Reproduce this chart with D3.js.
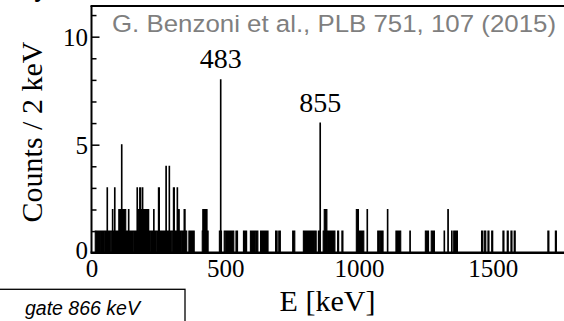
<!DOCTYPE html>
<html>
<head>
<meta charset="utf-8">
<script src="https://cdn.jsdelivr.net/npm/d3@7"></script>
<style>
  html, body { margin: 0; padding: 0; background: #fff; }
  svg { display: block; overflow: hidden; }
</style>
</head>
<body>
<svg id="chart" width="564" height="321"></svg>
<script>
// Gamma spectrum gated on 866 keV: counts per 2 keV bin (only non-empty bins listed)
const binWidth = 2; // keV
const countsPerBin = [
  [14,1],[16,1],[18,1],[20,1],[22,1],[24,1],[26,1],[28,1],[30,1],[32,1],
  [38,1],[40,1],[42,1],[44,1],[46,1],[48,1],
  [54,1],[56,1],[58,3],[60,1],[62,1],[64,1],[66,1],[68,1],[70,1],
  [74,1],[76,1],[78,2],[80,1],[82,1],[84,1],[86,3],[88,1],[90,1],[92,1],[94,1],[96,1],[98,1],[100,1],
  [102,2],[104,2],[106,2],[108,2],[110,2],[112,5],[114,2],[116,2],[118,2],[120,2],[122,2],[124,2],[126,2],
  [128,1],[130,1],[132,1],[134,1],[136,1],[138,2],[140,1],[142,1],[144,1],
  [150,1],[152,1],[154,1],[156,1],
  [162,1],[164,1],[166,1],[168,1],[170,3],[172,1],
  [174,2],[176,2],[178,2],[180,3],[182,3],[184,2],[186,2],[188,2],[190,3],[192,2],[194,2],[196,2],[198,2],
  [200,1],[202,2],[204,2],[206,2],[208,1],[210,2],[212,2],[214,1],[216,1],[218,1],[220,1],
  [226,1],[228,1],[230,1],[232,2],[234,1],[236,1],
  [242,1],[244,1],[246,1],[248,1],[250,3],[252,3],[254,1],[256,1],[258,1],
  [262,1],[264,1],[266,1],[268,1],[270,1],[272,1],[274,1],[276,1],[278,4],[280,1],[282,1],[284,1],[286,1],[288,1],[290,4],[292,1],[294,1],[296,1],[298,1],
  [302,1],[304,1],[306,3],[308,3],[310,1],[312,1],[314,1],[316,1],[318,1],[320,3],[322,1],[324,2],[326,2],[328,1],[330,1],[332,1],[334,1],[336,1],
  [342,1],[344,1],[346,2],[348,2],[350,1],[352,1],[354,1],
  [364,1],[366,1],[368,1],[370,1],[372,1],[374,1],[376,1],[378,1],[380,1],[382,1],
  [414,1],[416,2],[418,2],[420,2],[422,2],[424,2],[426,2],[428,2],[430,2],[432,1],[434,1],
  [478,1],[480,1],[482,8],[484,1],
  [496,1],[498,1],[500,1],
  [506,1],[508,1],[510,1],[512,1],[514,1],[516,1],[518,1],[520,1],[522,1],[524,1],[526,1],[528,1],[530,1],
  [540,1],[542,1],[544,1],
  [568,1],[570,1],[576,1],[578,1],
  [594,1],[596,1],[598,1],[600,1],[602,1],[606,1],
  [612,1],[614,1],[616,1],[618,1],[620,1],
  [632,1],[634,1],[636,1],[638,1],[640,1],[644,1],[646,1],[648,1],[650,1],[652,1],[654,1],[656,1],[658,1],
  [688,1],[690,1],[692,1],[700,1],[702,1],[704,1],
  [752,1],[754,1],[756,1],[758,1],
  [792,1],[794,1],[796,1],[798,1],[800,1],[802,1],[804,1],[806,1],[808,1],[810,1],[812,1],[814,1],[816,1],[818,1],[820,1],[822,1],[824,1],[826,1],[828,1],[830,1],[832,1],
  [836,1],[838,1],[848,1],[854,6],
  [866,1],[868,1],[870,2],[872,2],[874,2],[876,2],[878,2],[880,1],[882,1],
  [886,1],[888,1],[890,1],[892,1],[894,1],[896,1],[898,1],[902,1],[904,1],[906,1],[908,1],
  [920,1],[922,1],[936,1],[938,1],
  [990,2],[992,2],[994,2],[996,2],[998,1],[1000,1],[1002,1],[1004,1],[1006,1],
  [1010,1],[1012,1],[1014,1],[1016,1],[1030,2],
  [1070,1],[1072,1],[1074,1],[1076,1],[1080,1],[1082,1],[1084,1],[1086,1],[1088,1],[1106,2],
  [1138,1],[1140,1],[1142,1],[1148,1],[1150,1],[1152,1],[1154,1],
  [1190,1],
  [1248,1],[1250,1],[1252,1],[1254,1],[1256,1],[1258,1],
  [1270,1],[1272,1],[1274,1],[1276,1],[1278,1],[1280,1],
  [1318,1],[1332,2],[1346,1],
  [1354,1],[1356,1],[1358,1],[1360,1],[1362,1],[1364,1],[1366,1],
  [1458,1],[1460,1],[1468,1],[1470,1],[1472,1],[1482,1],[1484,1],[1496,1],[1498,1],
  [1538,1],[1540,1],[1554,1],[1556,1],[1568,1],[1570,1],[1580,1],[1582,1],
  [1706,1],[1708,1],[1734,1],[1736,1]
];

// Labelled transitions
const peakLabels = ["483", "855"];
const peakEnergies = [483, 855];
const peakCounts = [8, 6];

// Axis ticks
const xTickValues = [0, 500, 1000, 1500];
const yMajorTicks = [0, 5, 10];
const yMinorTicks = [1, 2, 3, 4, 6, 7, 8, 9, 11];

const xTitle = "E [keV]";
const yTitle = "Counts / 2 keV";
const reference = "G. Benzoni et al., PLB 751, 107 (2015)";
const gateText = "gate 866 keV";

const eMax = 2000;
const yMax = 11.42;

const svg = d3.select("#chart");
const serif = "'Liberation Serif', 'Times New Roman', serif";
const sans = "'Liberation Sans', Arial, sans-serif";

const x = d3.scaleLinear().domain([0, eMax]).range([91.5, 626.5]);
const y = d3.scaleLinear().domain([0, yMax]).range([252.7, 6]);

// Full spectrum with empty bins set to zero
const lookup = new Map(countsPerBin);
const spectrum = d3.range(0, eMax + binWidth, binWidth).map(e => ({ e, n: lookup.get(e) || 0 }));

const area = d3.area()
  .x(d => x(d.e)).y0(y(0)).y1(d => y(d.n))
  .curve(d3.curveStepAfter);
const line = d3.line()
  .x(d => x(d.e)).y(d => y(d.n))
  .curve(d3.curveStepAfter);

svg.append("path").datum(spectrum)
  .attr("d", area).attr("fill", "#000");
svg.append("path").datum(spectrum)
  .attr("d", line).attr("fill", "none")
  .attr("stroke", "#000").attr("stroke-width", 1.1);

// Frame: left axis, bottom axis, top border
svg.append("line")
  .attr("x1", x(0)).attr("x2", x(0)).attr("y1", y(yMax)).attr("y2", y(0))
  .attr("stroke", "#000").attr("stroke-width", 2);
svg.append("line")
  .attr("x1", x(0) - 1).attr("x2", x(eMax)).attr("y1", y(0)).attr("y2", y(0))
  .attr("stroke", "#000").attr("stroke-width", 2.5);
svg.append("line")
  .attr("x1", x(0) - 1).attr("x2", x(eMax)).attr("y1", y(yMax)).attr("y2", y(yMax))
  .attr("stroke", "#000").attr("stroke-width", 2);

// Y axis: major ticks with labels, minor ticks without
const yAxisMajor = d3.axisLeft(y).tickValues(yMajorTicks)
  .tickSizeInner(-8).tickSizeOuter(0).tickPadding(3.5)
  .tickFormat(d3.format("d"));
const gy = svg.append("g").attr("transform", `translate(${x(0)},0)`).call(yAxisMajor);
gy.select(".domain").remove();
gy.selectAll(".tick line").attr("stroke", "#000").attr("stroke-width", 1.5);
gy.selectAll(".tick text")
  .attr("font-family", serif).attr("font-size", 25).attr("fill", "#000")
  .attr("dy", "0.34em");
gy.selectAll(".tick").filter(d => d === 0).select("text").attr("dy", "0.22em");

const yAxisMinor = d3.axisLeft(y).tickValues(yMinorTicks)
  .tickSizeInner(-5).tickSizeOuter(0).tickFormat("");
const gym = svg.append("g").attr("transform", `translate(${x(0)},0)`).call(yAxisMinor);
gym.select(".domain").remove();
gym.selectAll(".tick line").attr("stroke", "#000").attr("stroke-width", 1.5);

// X axis labels
const xAxis = d3.axisBottom(x).tickValues(xTickValues)
  .tickSize(0).tickPadding(6.5).tickFormat(d3.format("d"));
const gx = svg.append("g").attr("transform", `translate(0,${y(0)})`).call(xAxis);
gx.select(".domain").remove();
gx.selectAll(".tick text")
  .attr("font-family", serif).attr("font-size", 25).attr("fill", "#000");

// Axis titles
svg.append("text")
  .attr("x", 327.5).attr("y", 311)
  .attr("text-anchor", "middle")
  .attr("font-family", serif).attr("font-size", 30).attr("fill", "#000")
  .text(xTitle);
svg.append("text")
  .attr("transform", "translate(41.5,132) rotate(-90)")
  .attr("text-anchor", "middle")
  .attr("font-family", serif).attr("font-size", 30).attr("fill", "#000")
  .text(yTitle);

// Peak energy labels
svg.selectAll("text.peak")
  .data(peakLabels)
  .join("text")
  .attr("class", "peak")
  .attr("x", (d, i) => x(peakEnergies[i]))
  .attr("y", (d, i) => y(peakCounts[i]) - 11.5)
  .attr("text-anchor", "middle")
  .attr("font-family", serif).attr("font-size", 28).attr("fill", "#000")
  .text(d => d);

// Publication reference
svg.append("text")
  .attr("x", 112).attr("y", 31.7)
  .attr("font-family", sans).attr("font-size", 24.5).attr("fill", "#7f7f7f")
  .attr("textLength", 444).attr("lengthAdjust", "spacingAndGlyphs")
  .text(reference);

// Gate box
svg.append("rect")
  .attr("x", -5).attr("y", 289.3).attr("width", 190).attr("height", 60)
  .attr("fill", "none").attr("stroke", "#000").attr("stroke-width", 1.3);
svg.append("text")
  .attr("x", 25).attr("y", 315)
  .attr("font-family", sans).attr("font-style", "italic")
  .attr("font-size", 19.5).attr("fill", "#000")
  .text(gateText);

// Descender of the figure heading above
svg.append("text")
  .attr("x", 34).attr("y", -3.5)
  .attr("font-family", sans).attr("font-weight", "bold")
  .attr("font-size", 22).attr("fill", "#000")
  .text("y");
</script>
</body>
</html>
